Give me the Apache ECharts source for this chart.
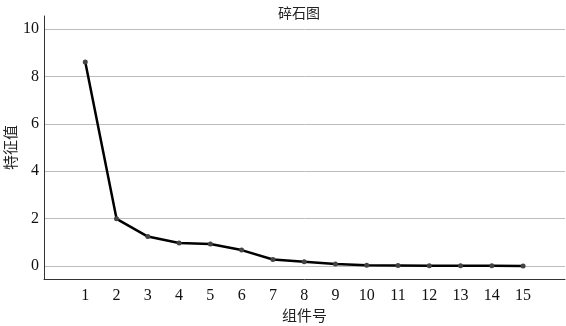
<!DOCTYPE html>
<html><head><meta charset="utf-8">
<script src="https://cdn.jsdelivr.net/npm/echarts@6/dist/echarts.min.js"></script>
<style>html,body{margin:0;padding:0;background:#fff}#c{width:566px;height:326px}</style>
</head><body><div id="c"></div>
<script>
const components = [1,2,3,4,5,6,7,8,9,10,11,12,13,14,15];
const eigenvalues = [8.61,1.99,1.24,0.97,0.93,0.67,0.27,0.18,0.08,0.03,0.02,0.01,0.01,0.01,0.0];
const yTicks = [0,2,4,6,8,10];
const titleText = '碎石图';
const xName = '组件号';
const yName = '特征值';

const chart = echarts.init(document.getElementById('c'), null, {renderer:'canvas'});
const numFont = '"Liberation Serif", "DejaVu Serif", serif';
const cjkFont = '"Noto Sans CJK SC", sans-serif';
chart.setOption({
  animation:false,
  backgroundColor:'#fff',
  title:{text:titleText,left:294,top:1,textAlign:'center',textStyle:{fontFamily:cjkFont,fontSize:14,fontWeight:'normal',color:'#222'}},
  grid:{left:44,right:1,top:16,bottom:47,containLabel:false,outerBoundsMode:'none'},
  xAxis:{type:'value',min:-0.32,max:16.34,
    name:xName,nameLocation:'middle',nameGap:29,nameMoveOverlap:false,
    nameTextStyle:{fontFamily:cjkFont,fontSize:15,color:'#222'},
    axisLine:{show:true,onZero:false,lineStyle:{color:'#333',width:1}},
    axisTick:{show:false},
    splitLine:{show:false},
    axisLabel:{customValues:components,fontFamily:numFont,fontSize:16,color:'#111',margin:9}
  },
  yAxis:{type:'value',min:-0.55,max:10.55,
    name:yName,nameLocation:'middle',nameGap:26,nameRotate:90,nameMoveOverlap:false,
    nameTextStyle:{fontFamily:cjkFont,fontSize:15,color:'#222'},
    axisLine:{show:true,onZero:false,lineStyle:{color:'#333',width:1}},
    axisTick:{show:false,customValues:yTicks},
    splitLine:{show:true,lineStyle:{color:'#bdbdbd',width:1}},
    axisLabel:{customValues:yTicks,fontFamily:numFont,fontSize:16,color:'#111',margin:5}
  },
  series:[{type:'line',data:components.map((c,i)=>[c,eigenvalues[i]]),
    lineStyle:{color:'#000',width:2.5},
    symbol:'circle',symbolSize:5,
    itemStyle:{color:'#444',borderWidth:0}
  }]
});
</script></body></html>
